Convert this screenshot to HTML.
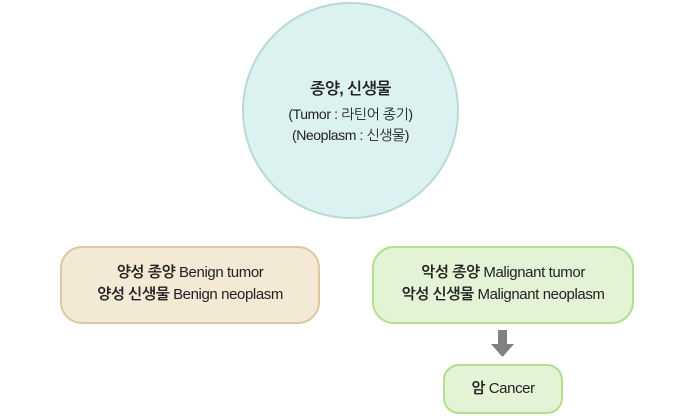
<!DOCTYPE html>
<html><head><meta charset="utf-8"><style>
body{margin:0;width:700px;height:418px;background:#fff;position:relative;font-family:"Liberation Sans","NanumGothic","Noto Sans CJK KR",sans-serif;color:#222;overflow:hidden}
.c{position:absolute;left:242px;top:2px;width:213px;height:213px;border-radius:50%;background:#dcf2f1;border:2px solid #b9d9d6;text-align:center}
.b{position:absolute;border-radius:22px;text-align:center;font-size:15px;line-height:22px;letter-spacing:-0.4px}
b{font-weight:bold}
</style></head><body>
<div class="c"><div style="margin-top:77px;font-size:16px;font-weight:bold;letter-spacing:-0.5px">종양, 신생물</div>
<div style="font-size:14px;line-height:21px;margin-top:5px;letter-spacing:-0.4px">(Tumor : 라틴어 종기)<br>(Neoplasm : 신생물)</div></div>
<div class="b" style="left:60px;top:246px;width:256px;height:74px;background:#f4e9d5;border:2px solid #dcc79f"><div style="margin-top:14px"><b>양성 종양</b> Benign tumor<br><b>양성 신생물</b> Benign neoplasm</div></div>
<div class="b" style="left:372px;top:246px;width:258px;height:74px;background:#e3f3d6;border:2px solid #b3de8c"><div style="margin-top:14px"><b>악성 종양</b> Malignant tumor<br><b>악성 신생물</b> Malignant neoplasm</div></div>
<svg style="position:absolute;left:490px;top:330px" width="26" height="28"><polygon points="8,0 17,0 17,14 24,14 12.5,27 1,14 8,14" fill="#808080"/></svg>
<div class="b" style="left:443px;top:364px;width:116px;height:46px;border-radius:16px;background:#e3f3d6;border:2px solid #b3de8c"><div style="margin-top:12px"><b>암</b> Cancer</div></div>
</body></html>
